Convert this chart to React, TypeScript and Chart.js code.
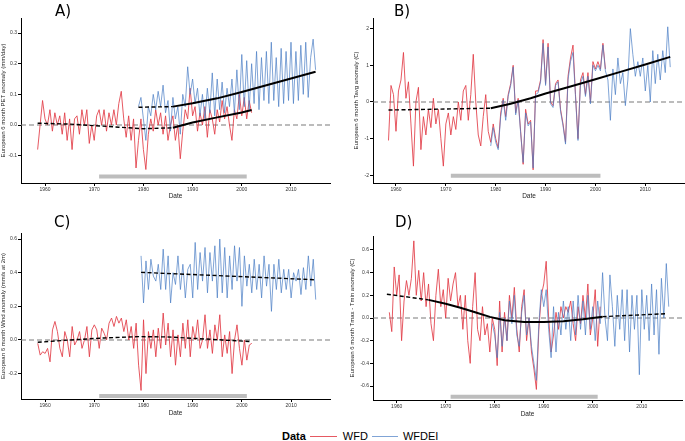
import React, { useEffect, useRef } from "react";
import { Chart, registerables } from "chart.js";

Chart.register(...registerables);

// ---------------- data ----------------
const STEP = 0.5; // half-year sampling of the 6-month running anomalies
const xTickYears = [1960, 1970, 1980, 1990, 2000, 2010];
const refPeriod = [1971, 2001];

// A) PET (mm/day)
const petTicks = [-0.1, 0, 0.1, 0.2, 0.3];
const petWfdStart = 1958.5;
const petWfd = [
  -0.08, 0.0, 0.08, 0.02, 0.0, 0.05, -0.02, 0.04, 0.0, 0.03, -0.03, 0.04, -0.05, 0.02, -0.08, 0.02,
  0.03, -0.03, 0.05, 0.0, 0.05, -0.06, 0.0, -0.05, 0.03, 0.05, 0.0, 0.05, -0.02, 0.04, 0.0, 0.05,
  0.0, 0.07, 0.11, 0.02, -0.04, 0.03, -0.05, 0.02, -0.14, -0.05, 0.02, -0.08, -0.145, -0.03, 0.02,
  -0.02, 0.05, 0.0, 0.04, -0.03, 0.03, -0.05, 0.0, 0.03, -0.05, 0.0, -0.11, -0.02, 0.05, 0.02, 0.12,
  0.03, 0.06, -0.02, 0.04, 0.0, 0.06, -0.04, 0.05, 0.02, -0.03, 0.05, 0.01, 0.08, 0.02, 0.06, 0.0,
  -0.05, 0.05, 0.02, 0.1, 0.03, 0.09, 0.02, 0.08, 0.04,
];
const petWfdeiStart = 1979;
const petWfdei = [
  0.06, 0.09, 0.02, -0.05, 0.06, 0.03, 0.1, 0.05, 0.11, 0.06, 0.13, 0.04, 0.08, -0.02, 0.09, 0.02,
  0.06, -0.03, 0.1, 0.06, 0.19, 0.1, 0.15, 0.07, 0.12, 0.03, 0.1, 0.02, 0.12, 0.04, 0.17, 0.03, 0.15,
  0.05, 0.14, 0.04, 0.12, 0.06, 0.15, 0.04, 0.18, 0.05, 0.23, 0.06, 0.21, 0.05, 0.2, 0.07, 0.24, 0.05,
  0.22, 0.08, 0.24, 0.07, 0.27, 0.08, 0.22, 0.06, 0.25, 0.07, 0.24, 0.08, 0.27, 0.07, 0.24, 0.08,
  0.26, 0.1, 0.27, 0.09, 0.22, 0.28, 0.18,
];
const petTrendWfdDashYears = [1958.5, 1965, 1970, 1975, 1980, 1986];
const petTrendWfdDash = [0.006, 0.003, -0.002, -0.007, -0.012, -0.009];
const petTrendWfdSolidYears = [1986, 1990, 1995, 2000, 2002];
const petTrendWfdSolid = [-0.009, 0.008, 0.025, 0.041, 0.049];
const petTrendWfdeiDashYears = [1979, 1986];
const petTrendWfdeiDash = [0.058, 0.06];
const petTrendWfdeiSolidYears = [1986, 1990, 1995, 2000, 2005, 2010, 2015];
const petTrendWfdeiSolid = [0.06, 0.071, 0.087, 0.108, 0.13, 0.152, 0.174];
const petBarLevel = -0.168;

// B) Tavg (C)
const tavgTicks = [-2, -1, 0, 1, 2];
const tavgWfdStart = 1958.5;
const tavgWfd = [
  -1.05, 0.45, 0.2, -0.8, 0.3, 0.6, 1.35, 0.1, 0.55, -0.6, -1.75, 0.0, 0.4, -1.3, -0.4, -0.9, -0.2,
  -0.7, 0.1, -0.6, -0.2, -1.0, -1.75, -0.6, -0.3, -0.9, -0.4, -0.75, 0.0, -0.5, 0.3, 0.45, -0.5, 0.2,
  1.3, 0.0, -0.9, -1.2, -0.4, 0.2, -0.8,
  -1.1, -0.6, -1.0, -1.25, -0.3, 0.1, -0.4, 0.2, 0.5, 1.0, -0.3, 0.1, -0.8, -1.7, -0.2, -0.6, -0.5,
  -1.85, 0.3, 0.3, 0.6, 1.7, 0.5, 1.6, 0.0, -0.1, 0.5, 0.6, -0.2, -0.6, -1.1, 0.7, 1.2, 1.55, 0.2,
  -1.0, 0.6, 0.8, 0.2, 0.8, 0.0, 1.1, 0.9, 1.1, 0.9, 1.6, 0.9,
];
const tavgWfdeiStart = 1979;
const tavgWfdei = [
  -1.2, -0.7, -1.1, -1.3, -0.4, 0.05, -0.5, 0.15, 0.45, 0.95, -0.35, 0.05, -0.85, -1.65, -0.3, -0.65,
  -0.55, -1.8, 0.2, 0.25, 0.55, 1.6, 0.45, 1.5, -0.05, -0.15, 0.45, 0.55, -0.25, -0.65, -1.15, 0.6,
  1.1, 1.35, 0.15, -1.05, 0.5, 0.7, 0.15, 0.7, -0.05, 1.0, 0.85, 1.0, 0.85, 1.55, 0.85, 0.6, -0.5,
  0.9, 0.2, 1.2, 0.5, 0.8, -0.1, 0.6, 2.0, 1.3, 0.7, 1.1, 0.7, 1.2, 0.3, 1.0, 0.0, 1.4, 0.5, 1.3,
  0.6, 1.4, 0.8, 2.05, 0.95,
];
const tavgTrendDashYears = [1958.5, 1979];
const tavgTrendDash = [-0.22, -0.17];
const tavgTrendSolidYears = [1979, 1983, 1987, 1990, 1995, 2000, 2005, 2010, 2015];
const tavgTrendSolid = [-0.17, -0.05, 0.1, 0.23, 0.42, 0.62, 0.82, 1.02, 1.23];
const tavgBarLevel = -2.01;

// C) Wind (m/s at 2m)
const windTicks = [-0.2, 0, 0.2, 0.4, 0.6];
const windWfdStart = 1958.5;
const windWfd = [
  -0.02, -0.09, -0.07, -0.08, -0.05, -0.13, 0.06, 0.11, 0.05, -0.05, -0.1, 0.05, 0.0, -0.1, 0.08,
  -0.03, 0.0, 0.05, -0.05, 0.0, 0.08, -0.1, 0.06, 0.09, 0.06, -0.05, 0.07, 0.04, 0.0, 0.1, 0.13, 0.08,
  0.14, 0.1, 0.13, 0.05, 0.12, 0.0, 0.08, -0.05, 0.1, -0.15, -0.3, 0.12, -0.2, 0.05, -0.05, 0.06, -0.1,
  0.07, -0.05, 0.16, -0.03, 0.1, -0.1, 0.06, -0.15, 0.03, -0.1, 0.1, -0.05, 0.12, -0.1, 0.08, 0.0,
  0.12, -0.05, 0.0, 0.15, -0.05, 0.06, -0.08, 0.09, 0.0, 0.15, -0.1, 0.03, -0.08, 0.05, -0.2, 0.0,
  0.09, -0.05, -0.15, 0.0, -0.12, -0.03, -0.02,
];
const windWfdeiStart = 1979.5;
const windWfdei = [
  0.5, 0.22, 0.47, 0.3, 0.48, 0.38, 0.35, 0.45, 0.3, 0.54, 0.3, 0.5, 0.22, 0.4, 0.33, 0.5, 0.3, 0.45,
  0.25, 0.42, 0.45, 0.25, 0.58, 0.3, 0.52, 0.35, 0.55, 0.28, 0.52, 0.35, 0.56, 0.25, 0.6, 0.28, 0.55,
  0.25, 0.5, 0.3, 0.56, 0.35, 0.55, 0.2, 0.5, 0.32, 0.45, 0.28, 0.48, 0.3, 0.45, 0.25, 0.5, 0.32, 0.45,
  0.17, 0.45, 0.3, 0.48, 0.28, 0.42, 0.3, 0.42, 0.25, 0.4, 0.35, 0.42, 0.27, 0.43, 0.3, 0.5, 0.32,
  0.48, 0.24,
];
const windTrendWfdYears = [1958.5, 1965, 1972, 1979, 1985, 1990, 1996, 2002];
const windTrendWfd = [-0.014, 0.0, 0.012, 0.02, 0.018, 0.01, 0.0, -0.01];
const windTrendWfdeiYears = [1979.5, 2015];
const windTrendWfdei = [0.402, 0.358];
const windBarLevel = -0.333;

// D) Tmax - Tmin (C)
const dtrTicks = [-0.6, -0.4, -0.2, 0, 0.2, 0.4, 0.6];
const dtrWfdStart = 1958.5;
const dtrWfd = [
  0.05, -0.12, 0.45, 0.2, 0.38, -0.2, 0.15, 0.33, 0.2, 0.35, 0.68, 0.2, 0.42, 0.15, 0.4, 0.1, 0.3,
  -0.05, -0.2, 0.2, 0.43, 0.1, 0.25, 0.0, 0.35, 0.15, 0.3, 0.4, 0.1, 0.2, -0.1, 0.2, -0.2, -0.4, 0.1,
  0.4, -0.1, -0.2, 0.1, -0.15, -0.05, -0.3, 0.0, -0.1, -0.42, 0.15, -0.3, 0.05, -0.2, 0.2, 0.0, 0.27,
  -0.1, -0.3, 0.1, 0.25, -0.2, 0.0, -0.3, -0.45, -0.63, -0.1, 0.2, 0.3, 0.5, 0.0, -0.3, -0.15, 0.05,
  -0.1, 0.1, 0.0, 0.1, 0.05, 0.15, -0.05, -0.2, 0.1, -0.05, 0.2, 0.0, 0.3, -0.15, 0.0, 0.25, -0.25,
  0.1,
];
const dtrWfdeiStart = 1979.5;
const dtrWfdei = [
  -0.05, -0.15, -0.35, 0.05, -0.25, 0.0, -0.2, 0.15, -0.05, 0.2, -0.15, -0.25, 0.05, 0.2, -0.15, 0.0,
  -0.25, -0.4, -0.55, -0.05, 0.25, 0.1, 0.25, -0.1, -0.35, 0.1, -0.3, 0.05, -0.15, 0.15, -0.1, 0.1,
  -0.2, 0.15, -0.15, 0.2, -0.1, 0.15, -0.15, 0.2, -0.1, 0.1, -0.2, 0.15, -0.05, 0.4, 0.0, -0.2, 0.38,
  0.1, -0.25, 0.2, -0.1, 0.25, -0.2, 0.25, -0.3, 0.2, -0.1, 0.2, -0.5, 0.25, -0.1, 0.2, -0.2, 0.3,
  -0.15, 0.25, -0.32, 0.35, 0.0, 0.48, 0.1,
];
const dtrTrendDash1Years = [1958, 1966.5];
const dtrTrendDash1 = [0.21, 0.16];
const dtrTrendSolidYears = [1966.5, 1970, 1973, 1976, 1979, 1982, 1986, 1990, 1994, 1998, 2002];
const dtrTrendSolid = [0.16, 0.125, 0.09, 0.05, 0.01, -0.02, -0.035, -0.035, -0.028, -0.012, 0.012];
const dtrTrendDash2Years = [2002, 2015];
const dtrTrendDash2 = [0.012, 0.038];
const dtrBarLevel = -0.694;

// ---------------- styling / layout ----------------
const FONT = "'Liberation Sans', Arial, Helvetica, sans-serif";
const RED = "rgba(226, 60, 70, 0.85)";
const BLUE = "rgba(74, 126, 196, 0.7)";

type Seg = { years: number[]; vals: number[]; dashed: boolean };
type PanelCfg = {
  label: string;
  box: { left: number; top: number; w: number; h: number };
  pad: { left: number; right: number; top: number; bottom: number };
  yw: number;
  xh: number;
  xRange: [number, number];
  yRange: [number, number];
  yTicks: number[];
  decimals: number;
  yTitle: string;
  wfdStart: number;
  wfd: number[];
  wfdeiStart: number;
  wfdei: number[];
  trends: Seg[];
  bar: number;
  labelPos: { left: number; top: number };
};

const panels: PanelCfg[] = [
  {
    label: "A)",
    box: { left: 0, top: 0, w: 342, h: 200 },
    pad: { left: 0, right: 12, top: 18, bottom: 0 },
    yw: 21,
    xh: 17,
    xRange: [1955.12, 2017.93],
    yRange: [-0.189, 0.349],
    yTicks: petTicks,
    decimals: 1,
    yTitle: "European 6 month PET anomaly (mm/day)",
    wfdStart: petWfdStart,
    wfd: petWfd,
    wfdeiStart: petWfdeiStart,
    wfdei: petWfdei,
    trends: [
      { years: petTrendWfdDashYears, vals: petTrendWfdDash, dashed: true },
      { years: petTrendWfdSolidYears, vals: petTrendWfdSolid, dashed: false },
      { years: petTrendWfdeiDashYears, vals: petTrendWfdeiDash, dashed: true },
      { years: petTrendWfdeiSolidYears, vals: petTrendWfdeiSolid, dashed: false },
    ],
    bar: petBarLevel,
    labelPos: { left: 55, top: 2 },
  },
  {
    label: "B)",
    box: { left: 342, top: 0, w: 343, h: 200 },
    pad: { left: 11, right: 0, top: 18, bottom: 0 },
    yw: 20,
    xh: 17,
    xRange: [1955.39, 2017.96],
    yRange: [-2.21, 2.29],
    yTicks: tavgTicks,
    decimals: 0,
    yTitle: "European 6 month Tavg anomaly (C)",
    wfdStart: tavgWfdStart,
    wfd: tavgWfd,
    wfdeiStart: tavgWfdeiStart,
    wfdei: tavgWfdei,
    trends: [
      { years: tavgTrendDashYears, vals: tavgTrendDash, dashed: true },
      { years: tavgTrendSolidYears, vals: tavgTrendSolid, dashed: false },
    ],
    bar: tavgBarLevel,
    labelPos: { left: 394, top: 2 },
  },
  {
    label: "C)",
    box: { left: 0, top: 200, w: 342, h: 217 },
    pad: { left: 0, right: 12, top: 33, bottom: 0 },
    yw: 21,
    xh: 18,
    xRange: [1955.1, 2017.9],
    yRange: [-0.351, 0.636],
    yTicks: windTicks,
    decimals: 1,
    yTitle: "European 6 month Wind anomaly (mm/s at 2m)",
    wfdStart: windWfdStart,
    wfd: windWfd,
    wfdeiStart: windWfdeiStart,
    wfdei: windWfdei,
    trends: [
      { years: windTrendWfdYears, vals: windTrendWfd, dashed: true },
      { years: windTrendWfdeiYears, vals: windTrendWfdei, dashed: true },
    ],
    bar: windBarLevel,
    labelPos: { left: 54, top: 213 },
  },
  {
    label: "D)",
    box: { left: 342, top: 200, w: 343, h: 218 },
    pad: { left: 7, right: 3, top: 36, bottom: 0 },
    yw: 24,
    xh: 18,
    xRange: [1955.17, 2018.2],
    yRange: [-0.723, 0.723],
    yTicks: dtrTicks,
    decimals: 1,
    yTitle: "European 6 month Tmax - Tmin anomaly (C)",
    wfdStart: dtrWfdStart,
    wfd: dtrWfd,
    wfdeiStart: dtrWfdeiStart,
    wfdei: dtrWfdei,
    trends: [
      { years: dtrTrendDash1Years, vals: dtrTrendDash1, dashed: true },
      { years: dtrTrendSolidYears, vals: dtrTrendSolid, dashed: false },
      { years: dtrTrendDash2Years, vals: dtrTrendDash2, dashed: true },
    ],
    bar: dtrBarLevel,
    labelPos: { left: 395, top: 213 },
  },
];

function series(start: number, vals: number[]) {
  return vals.map((y, i) => ({ x: start + i * STEP, y }));
}
function pairs(xs: number[], ys: number[]) {
  return xs.map((x, i) => ({ x, y: ys[i] }));
}

function Panel({ p }: { p: PanelCfg }) {
  const ref = useRef<HTMLCanvasElement | null>(null);
  useEffect(() => {
    if (!ref.current) return;
    const ds: any[] = [];
    p.trends.forEach((t) =>
      ds.push({
        data: pairs(t.years, t.vals),
        borderColor: "#000",
        borderWidth: t.dashed ? 1.4 : 2,
        borderDash: t.dashed ? [4, 2.5] : [],
        order: 0,
      })
    );
    ds.push({ data: series(p.wfdeiStart, p.wfdei), borderColor: BLUE, borderWidth: 1, order: 1 });
    ds.push({ data: series(p.wfdStart, p.wfd), borderColor: RED, borderWidth: 1, order: 2 });
    ds.push({
      data: pairs([p.xRange[0], p.xRange[1]], [0, 0]),
      borderColor: "#7a7a7a",
      borderWidth: 1.1,
      borderDash: [5, 3],
      order: 3,
    });
    ds.push({
      data: pairs(refPeriod, [p.bar, p.bar]),
      borderColor: "#bdbdbd",
      borderWidth: 4,
      borderCapStyle: "butt",
      order: 4,
    });
    ds.forEach((d) => Object.assign(d, { pointRadius: 0, fill: false, tension: 0 }));

    const axisCommon = {
      grid: { display: true, drawOnChartArea: false, drawTicks: true, tickLength: 3, color: "#000", lineWidth: 1 },
      border: { display: true, color: "#000", width: 1 },
    };

    const chart = new Chart(ref.current, {
      type: "line",
      data: { datasets: ds },
      options: {
        responsive: false,
        animation: false,
        events: [],
        layout: { padding: p.pad },
        plugins: { legend: { display: false }, tooltip: { enabled: false }, title: { display: false } },
        scales: {
          x: {
            type: "linear",
            min: p.xRange[0],
            max: p.xRange[1],
            ...axisCommon,
            afterBuildTicks: (s: any) => {
              s.ticks = xTickYears.map((v) => ({ value: v }));
            },
            afterFit: (s: any) => {
              s.height = p.xh;
            },
            ticks: {
              font: { size: 5, family: FONT },
              color: "#333",
              padding: 1,
              maxRotation: 0,
              autoSkip: false,
              callback: (v: any) => String(v),
            },
            title: { display: true, text: "Date", font: { size: 6.5, family: FONT }, color: "#222", padding: 0 },
          },
          y: {
            type: "linear",
            min: p.yRange[0],
            max: p.yRange[1],
            ...axisCommon,
            afterBuildTicks: (s: any) => {
              s.ticks = p.yTicks.map((v) => ({ value: v }));
            },
            afterFit: (s: any) => {
              s.width = p.yw;
            },
            ticks: {
              font: { size: 5, family: FONT },
              color: "#333",
              padding: 1,
              autoSkip: false,
              callback: (v: any) => Number(v).toFixed(p.decimals),
            },
            title: {
              display: true,
              text: p.yTitle,
              font: { size: 6, family: FONT },
              color: "#222",
              padding: { top: 0, bottom: 0 },
            },
          },
        },
      } as any,
    });
    return () => chart.destroy();
  }, []);
  return (
    <canvas
      ref={ref}
      width={p.box.w}
      height={p.box.h}
      style={{ position: "absolute", left: p.box.left, top: p.box.top, width: p.box.w, height: p.box.h, display: "block" }}
    />
  );
}

export default function App() {
  return (
    <div
      style={{
        position: "absolute",
        left: 0,
        top: 0,
        width: 685,
        height: 441,
        background: "#fff",
        overflow: "hidden",
      }}
    >
      {panels.map((p) => (
        <React.Fragment key={p.label}>
          <Panel p={p} />
          <div
            style={{
              position: "absolute",
              left: p.labelPos.left,
              top: p.labelPos.top,
              fontFamily: "'DejaVu Sans', sans-serif",
              fontSize: 15,
              lineHeight: "18px",
              color: "#000",
            }}
          >
            {p.label}
          </div>
        </React.Fragment>
      ))}
      <div
        style={{
          position: "absolute",
          left: 282,
          top: 430,
          height: 12,
          display: "flex",
          alignItems: "center",
          fontFamily: FONT,
          fontSize: 11,
          lineHeight: "12px",
          color: "#000",
          whiteSpace: "nowrap",
        }}
      >
        <span style={{ fontWeight: "bold" }}>Data</span>
        <span style={{ display: "inline-block", width: 27, height: 1, background: RED, margin: "0 6px 0 4px" }} />
        <span>WFD</span>
        <span style={{ display: "inline-block", width: 26, height: 1, background: BLUE, margin: "0 5px 0 4px" }} />
        <span>WFDEI</span>
      </div>
    </div>
  );
}
